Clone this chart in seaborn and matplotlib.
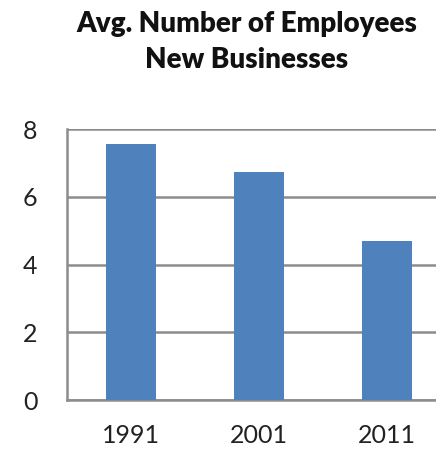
import matplotlib
matplotlib.use("Agg")
import matplotlib.pyplot as plt
import seaborn as sns
import pandas as pd

years = ["1991", "2001", "2011"]
employees = [7.57, 6.74, 4.69]
yticks = [0, 2, 4, 6, 8]

sns.set_style("white")
plt.rcParams['font.family'] = ['Lato', 'DejaVu Sans']

df = pd.DataFrame({"year": years, "avg": employees})

W, H = 436, 451
fig = plt.figure(figsize=(W / 100, H / 100), dpi=100)
x0, x1 = 66.7, 450.7
y0, y1 = 400, 129
ax = fig.add_axes([x0 / W, 1 - y0 / H, (x1 - x0) / W, (y0 - y1) / H])

sns.barplot(data=df, x="year", y="avg", color="#4F81BD", width=0.39,
            saturation=1, linewidth=0, ax=ax, zorder=3)

ax.set_xlim(-0.5, 2.5)
ax.set_ylim(0, 8)
ax.set_yticks(yticks)
ax.set_xlabel("")
ax.set_ylabel("")
gc = "#8c8c8c"
ax.yaxis.grid(True, color=gc, linewidth=1.8, zorder=0)
ax.set_axisbelow(True)
for s in ["top", "right"]:
    ax.spines[s].set_visible(False)
for s in ["left", "bottom"]:
    ax.spines[s].set_color(gc)
    ax.spines[s].set_linewidth(1.8)

ax.set_xticks([0, 1, 2])
ax.set_xticklabels(years)
ax.set_xticks([0.5, 1.5, 2.5], minor=True)
ax.tick_params(axis="x", which="major", length=0, pad=17, labelsize=18, labelcolor="#222222")
ax.tick_params(axis="x", which="minor", length=7, width=1.8, color=gc, direction="out")
ax.tick_params(axis="y", length=7, width=1.8, color=gc, direction="out", pad=14,
               labelsize=18, labelcolor="#222222")

fig.text(247 / W, 1 - 24 / H, "Avg. Number of Employees", ha="center", va="center",
         fontsize=20, fontweight="heavy", color="#111111")
fig.text(247 / W, 1 - 60 / H, "New Businesses", ha="center", va="center",
         fontsize=20, fontweight="heavy", color="#111111")

fig.savefig("out.png", dpi=100)
